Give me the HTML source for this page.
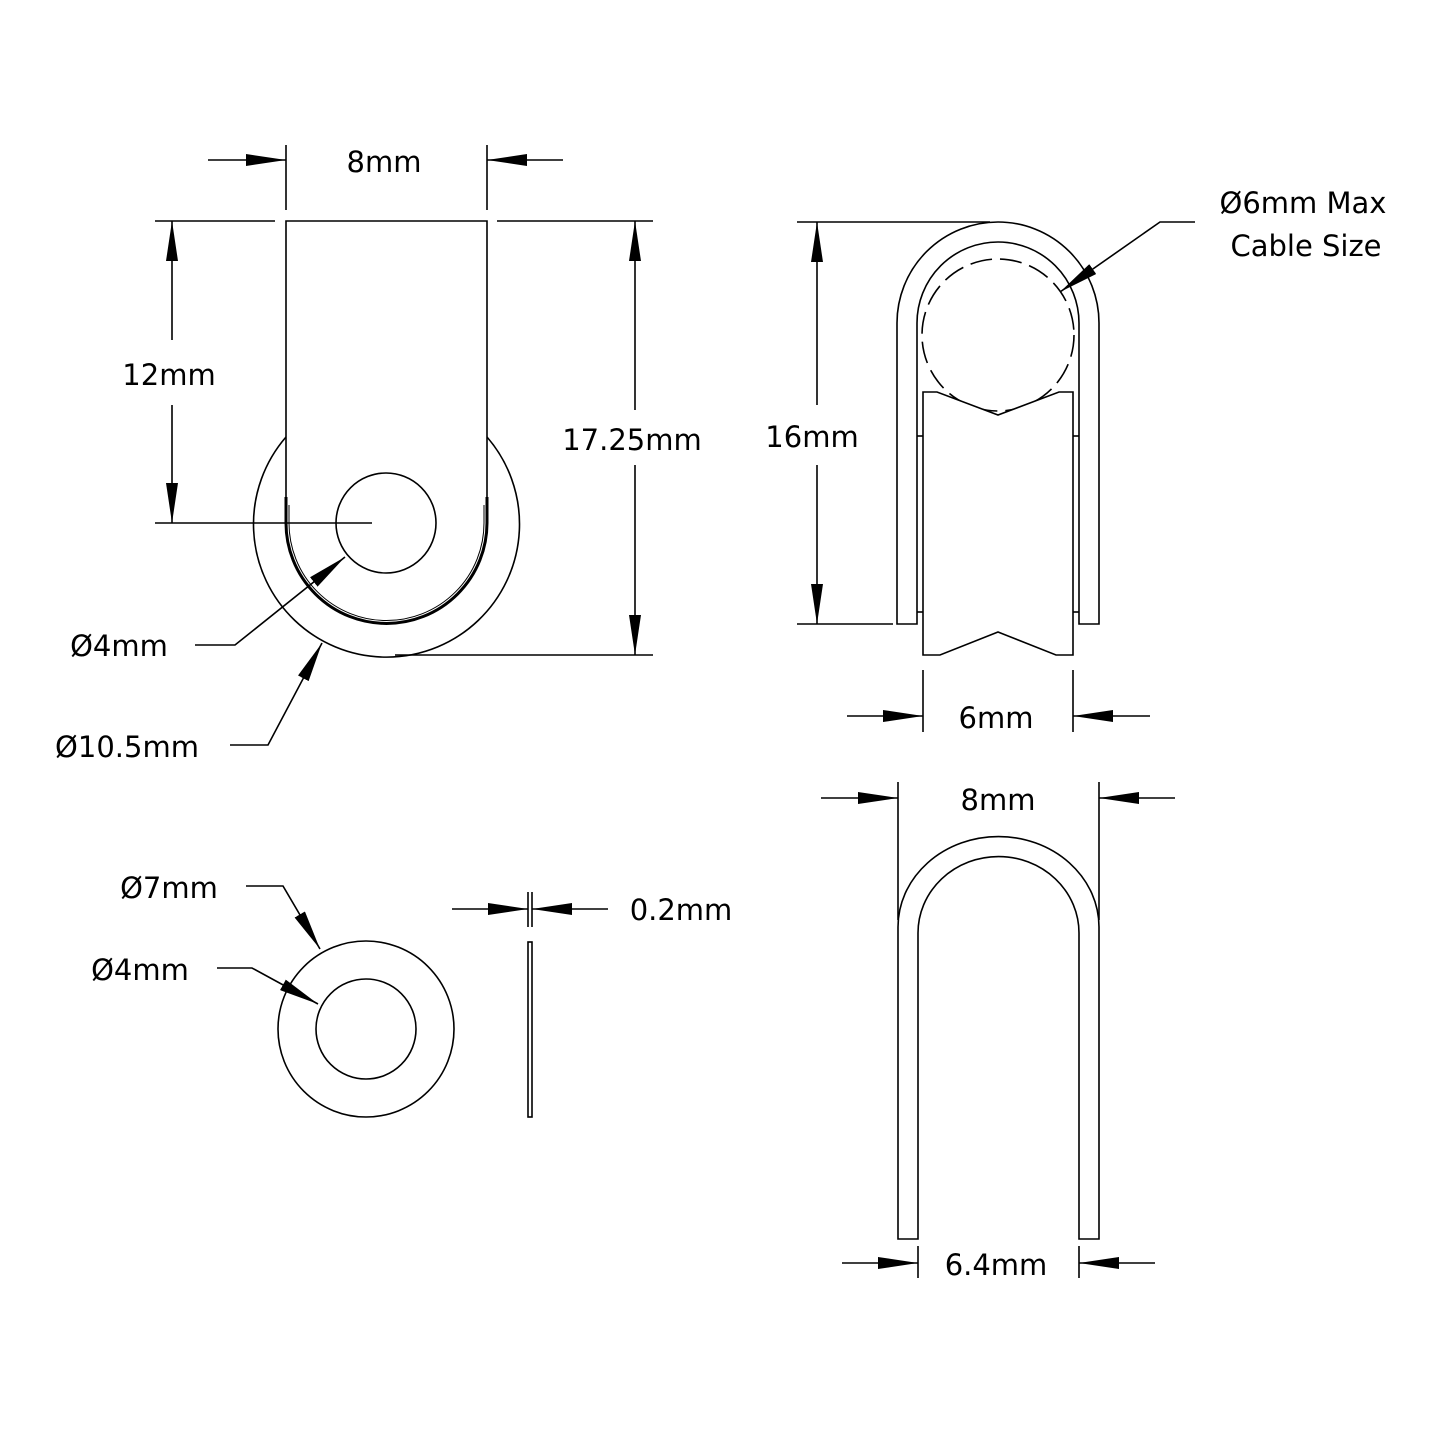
<!DOCTYPE html>
<html><head><style>body{margin:0;background:#fff}svg{display:block}text{font-family:"DejaVu Sans","Liberation Sans",sans-serif;font-size:29px;fill:#000}</style></head><body>
<svg width="1445" height="1445" viewBox="0 0 1445 1445" xmlns="http://www.w3.org/2000/svg">
<defs><marker id="a" viewBox="0 0 40 12" refX="40" refY="6" markerWidth="40" markerHeight="12" markerUnits="userSpaceOnUse" orient="auto"><path d="M0,0 L40,6 L0,12 Z" fill="#000"/></marker></defs>
<g fill="none" stroke="#000" stroke-width="1.6">
<!-- left top view -->
<path d="M286,500 L286,221 L487,221 L487,500"/>
<path d="M286,437 A133,133 0 1 0 487,437"/>
<circle cx="386" cy="523" r="50"/>
<path d="M286,497 L286,523 A100,100 0 0 0 487,523 L487,497" stroke-width="3"/>
<path d="M289,505 L289,523 A97,97 0 0 0 484,523 L484,505" stroke-width="1"/>
<!-- dims left -->
<line x1="286" y1="145" x2="286" y2="210"/><line x1="487" y1="145" x2="487" y2="210"/>
<line x1="208" y1="160" x2="286" y2="160" marker-end="url(#a)"/><line x1="563" y1="160" x2="487" y2="160" marker-end="url(#a)"/>
<line x1="155" y1="221" x2="275" y2="221"/><line x1="155" y1="523" x2="372" y2="523"/>
<line x1="172" y1="340" x2="172" y2="221" marker-end="url(#a)"/><line x1="172" y1="405" x2="172" y2="523" marker-end="url(#a)"/>
<line x1="497" y1="221" x2="653" y2="221"/><line x1="395" y1="655" x2="653" y2="655"/>
<line x1="635" y1="410" x2="635" y2="221" marker-end="url(#a)"/><line x1="635" y1="465" x2="635" y2="655" marker-end="url(#a)"/>
<polyline points="195,645 235,645 345,557" marker-end="url(#a)"/>
<polyline points="230,745 268,745 322,643" marker-end="url(#a)"/>
<!-- washer -->
<circle cx="366" cy="1029" r="88"/><circle cx="366" cy="1029" r="50"/>
<rect x="528" y="942" width="4" height="175"/>
<polyline points="246,886 283,886 320,949" marker-end="url(#a)"/>
<polyline points="217,968 252,968 318,1004" marker-end="url(#a)"/>
<line x1="528" y1="892" x2="528" y2="927"/><line x1="532" y1="892" x2="532" y2="927"/>
<line x1="452" y1="909" x2="528" y2="909" marker-end="url(#a)"/><line x1="608" y1="909" x2="532" y2="909" marker-end="url(#a)"/>
<!-- right top view -->
<path d="M897,624 L897,323 A101,101 0 0 1 1099,323 L1099,624 L1079,624 L1079,323 A81,81 0 0 0 917,323 L917,624 Z"/>
<circle cx="998" cy="335" r="76" stroke-dasharray="22,8"/>
<path d="M923,655 L923,392 L937,392 L998,415 L1059,392 L1073,392 L1073,655 L1056,655 L998,632 L940,655 Z" fill="#fff"/>
<line x1="917" y1="436" x2="923" y2="436"/><line x1="917" y1="612" x2="923" y2="612"/>
<line x1="1073" y1="436" x2="1079" y2="436"/><line x1="1073" y1="612" x2="1079" y2="612"/>
<line x1="797" y1="222" x2="990" y2="222"/><line x1="797" y1="624" x2="893" y2="624"/>
<line x1="817" y1="405" x2="817" y2="222" marker-end="url(#a)"/><line x1="817" y1="465" x2="817" y2="624" marker-end="url(#a)"/>
<polyline points="1195,222 1160,222 1060,292" marker-end="url(#a)"/>
<line x1="923" y1="670" x2="923" y2="732"/><line x1="1073" y1="670" x2="1073" y2="732"/>
<line x1="847" y1="716" x2="923" y2="716" marker-end="url(#a)"/><line x1="1150" y1="716" x2="1073" y2="716" marker-end="url(#a)"/>
<!-- right bottom view -->
<path d="M898,1239 L898,927 A100,90 0 0 1 1099,927 L1099,1239 L1079,1239 L1079,933 A80,76 0 0 0 918,933 L918,1239 Z"/>
<line x1="898" y1="782" x2="898" y2="920"/><line x1="1099" y1="782" x2="1099" y2="920"/>
<line x1="821" y1="798" x2="898" y2="798" marker-end="url(#a)"/><line x1="1175" y1="798" x2="1099" y2="798" marker-end="url(#a)"/>
<line x1="918" y1="1246" x2="918" y2="1278"/><line x1="1079" y1="1246" x2="1079" y2="1278"/>
<line x1="842" y1="1263" x2="918" y2="1263" marker-end="url(#a)"/><line x1="1155" y1="1263" x2="1079" y2="1263" marker-end="url(#a)"/>
</g>
<text x="384" y="172" text-anchor="middle">8mm</text>
<text x="169" y="385" text-anchor="middle">12mm</text>
<text x="632" y="450" text-anchor="middle">17.25mm</text>
<text x="119" y="656" text-anchor="middle">Ø4mm</text>
<text x="127" y="757" text-anchor="middle">Ø10.5mm</text>
<text x="169" y="898" text-anchor="middle">Ø7mm</text>
<text x="140" y="980" text-anchor="middle">Ø4mm</text>
<text x="681" y="920" text-anchor="middle">0.2mm</text>
<text x="812" y="447" text-anchor="middle">16mm</text>
<text x="1303" y="213" text-anchor="middle">Ø6mm Max</text>
<text x="1306" y="256" text-anchor="middle">Cable Size</text>
<text x="996" y="728" text-anchor="middle">6mm</text>
<text x="998" y="810" text-anchor="middle">8mm</text>
<text x="996" y="1275" text-anchor="middle">6.4mm</text>
</svg>
</body></html>
